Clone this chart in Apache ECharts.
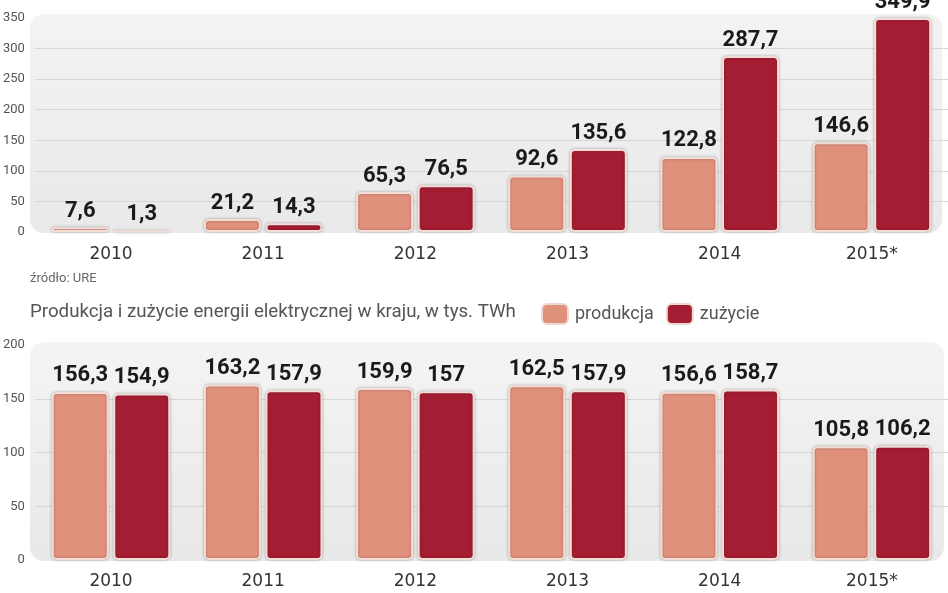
<!DOCTYPE html>
<html>
<head>
<meta charset="utf-8">
<script src="https://cdn.jsdelivr.net/npm/echarts@6/dist/echarts.min.js"></script>
<style>
html,body{margin:0;padding:0;background:#fff;}
#c{width:948px;height:593px;}
</style>
</head>
<body>
<div id="c"></div>
<script>
// ---- data ----
var years = ['2010', '2011', '2012', '2013', '2014', '2015*'];
var topProdukcja = [7.6, 21.2, 65.3, 92.6, 122.8, 146.6];
var topZuzycie = [1.3, 14.3, 76.5, 135.6, 287.7, 349.9];
var botProdukcja = [156.3, 163.2, 159.9, 162.5, 156.6, 105.8];
var botZuzycie = [154.9, 157.9, 157, 157.9, 158.7, 106.2];
var seriesNames = ['produkcja', 'zużycie'];
var titleText = 'Produkcja i zużycie energii elektrycznej w kraju, w tys. TWh';
var sourceText = 'źródło: URE';

// ---- style ----
var cProd = '#e0917c', cZuz = '#a51d33';
var fmt = function (p) { return String(p.value).replace('.', ','); };
var labelStyle = {
  show: true, position: 'top', distance: 5, formatter: fmt,
  fontFamily: 'Roboto', fontWeight: 'bold', fontSize: 22, color: '#1a1a1a'
};
function barSeries(name, data, color, gi) {
  return {
    type: 'bar', name: name, data: data, xAxisIndex: gi, yAxisIndex: gi,
    barWidth: 57, barGap: '8%',
    label: labelStyle,
    itemStyle: {
      color: color, borderColor: '#f3ddd7', borderWidth: 2, borderRadius: 4,
      shadowColor: 'rgba(0,0,0,0.25)', shadowBlur: 3
    }
  };
}
function xAxis(gi, margin) {
  return {
    type: 'category', data: years, gridIndex: gi,
    axisLine: { show: false }, axisTick: { show: false },
    axisLabel: { margin: margin, fontFamily: 'DejaVu Sans', fontSize: 17, color: '#333' }
  };
}
function yAxis(gi, max) {
  return {
    type: 'value', gridIndex: gi, min: 0, max: max, interval: 50,
    axisLine: { show: false }, axisTick: { show: false },
    axisLabel: { margin: 10, fontFamily: 'Roboto', fontSize: 13, color: '#555' },
    splitLine: { show: true, showMinLine: false, showMaxLine: false, lineStyle: { color: '#d6d6d6', width: 1 } }
  };
}

var chart = echarts.init(document.getElementById('c'));
chart.setOption({
  animation: false,
  backgroundColor: '#fff',
  grid: [
    { left: 30, right: -6, top: 18, height: 214 },
    { left: 30, right: -6, top: 345, height: 215 }
  ],
  xAxis: [xAxis(0, 14), xAxis(1, 13)],
  yAxis: [yAxis(0, 350), yAxis(1, 200)],
  legend: {
    data: seriesNames, left: 536, top: 298, itemWidth: 26, itemHeight: 20, itemGap: 12,
    icon: 'roundRect',
    itemStyle: { borderColor: '#f0d8d2', borderWidth: 2 },
    textStyle: { fontFamily: 'Roboto', fontSize: 18, color: '#555', padding: [0, 0, 0, 2] }
  },
  graphic: [
    {
      type: 'rect', z: -10, silent: true,
      shape: { x: 30, y: 14, width: 912, height: 219, r: 14 },
      style: { fill: new echarts.graphic.LinearGradient(0, 0, 0, 1, [{ offset: 0, color: '#f3f3f3' }, { offset: 1, color: '#e9e9e9' }]) }
    },
    {
      type: 'rect', z: -10, silent: true,
      shape: { x: 30, y: 342, width: 914, height: 219, r: 14 },
      style: { fill: new echarts.graphic.LinearGradient(0, 0, 0, 1, [{ offset: 0, color: '#f4f4f4' }, { offset: 1, color: '#e8e8e8' }]) }
    },
    {
      type: 'text', left: 30, top: 303,
      style: { text: titleText, fontFamily: 'Roboto', fontSize: 18.7, fill: '#555' }
    },
    {
      type: 'text', left: 30, top: 272,
      style: { text: sourceText, fontFamily: 'Roboto', fontSize: 13, fill: '#666' }
    }
  ],
  series: [
    barSeries(seriesNames[0], topProdukcja, cProd, 0),
    barSeries(seriesNames[1], topZuzycie, cZuz, 0),
    barSeries(seriesNames[0], botProdukcja, cProd, 1),
    barSeries(seriesNames[1], botZuzycie, cZuz, 1)
  ]
});
</script>
</body>
</html>
